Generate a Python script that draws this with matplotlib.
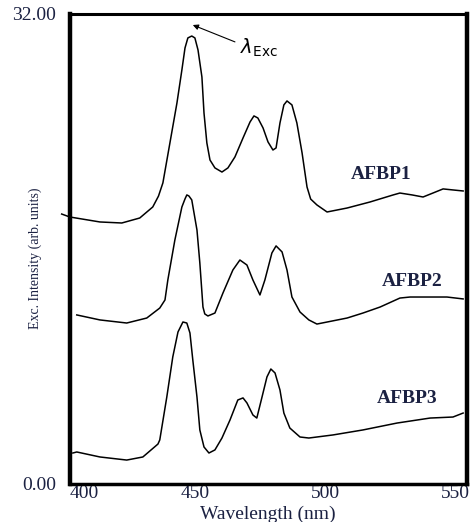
import numpy as np
import matplotlib.pyplot as plt

# wavelength (nm) / intensity
wl_1 = [398.8, 401.9, 413.5, 421.9, 428.8, 433.8, 436.0, 437.7, 440.4, 443.1,
        445.0, 446.2, 447.3, 448.8, 450.0, 451.2, 452.7, 453.5, 454.6, 455.8,
        457.7, 460.4, 462.7, 465.4, 468.5, 471.2, 472.7, 474.2, 476.2, 478.1,
        480.0, 481.2, 482.7, 484.2, 485.4, 487.3, 489.2, 491.2, 493.1, 494.5,
        496.9, 500.8, 508.5, 517.3, 526.2, 528.8, 533.5, 537.7, 541.5, 545.4,
        549.2, 553.1]
afbp1 = [18.38, 18.18, 17.84, 17.77, 18.11, 18.86, 19.60, 20.50, 23.22, 25.94,
         28.19, 29.69, 30.37, 30.50, 30.37, 29.55, 27.71, 25.26, 23.22, 22.06,
         21.52, 21.24, 21.52, 22.27, 23.56, 24.65, 25.06, 24.92, 24.24, 23.29,
         22.74, 22.88, 24.58, 25.81, 26.08, 25.81, 24.58, 22.54, 20.22, 19.40,
         19.00, 18.52, 18.79, 19.20, 19.68, 19.81, 19.68, 19.54, 19.81, 20.09,
         20.02, 19.95]

wl_2 = [404.6, 413.5, 423.8, 431.5, 436.5, 438.5, 439.6, 442.3, 445.0, 446.2,
        446.9, 447.7, 448.8, 450.8, 451.9, 453.1, 453.8, 455.0, 457.7, 460.8,
        464.6, 467.3, 470.0, 472.3, 475.0, 476.9, 479.6, 481.2, 483.5, 485.4,
        487.3, 490.4, 493.8, 496.9, 508.5, 514.6, 521.2, 528.8, 532.7, 546.9,
        553.1]
afbp2 = [11.51, 11.17, 10.96, 11.30, 11.98, 12.53, 13.89, 16.61, 18.86, 19.41,
         19.68, 19.61, 19.34, 17.29, 15.05, 12.05, 11.58, 11.44, 11.64, 13.01,
         14.57, 15.25, 14.91, 13.89, 12.87, 13.89, 15.73, 16.21, 15.80, 14.57,
         12.73, 11.71, 11.17, 10.89, 11.30, 11.64, 12.05, 12.66, 12.73, 12.73,
         12.60]

wl_3 = [403.1, 404.6, 413.5, 423.8, 430.0, 435.8, 436.5, 439.2, 441.5, 443.5,
        445.4, 446.9, 448.1, 449.2, 450.8, 451.9, 453.5, 455.4, 457.7, 460.4,
        463.5, 466.5, 468.5, 470.0, 472.3, 473.8, 475.8, 477.7, 479.2, 480.8,
        482.7, 484.2, 486.5, 490.4, 493.8, 503.1, 514.6, 527.7, 540.4, 549.2,
        553.1]
afbp3 = [2.11, 2.18, 1.84, 1.63, 1.84, 2.72, 3.00, 5.92, 8.65, 10.35,
         11.03, 10.96, 10.28, 8.44, 5.92, 3.68, 2.52, 2.11, 2.32, 3.13,
         4.36, 5.72, 5.86, 5.52, 4.70, 4.49, 5.92, 7.29, 7.83, 7.56,
         6.40, 4.83, 3.81, 3.20, 3.13, 3.34, 3.68, 4.15, 4.49, 4.56,
         4.83]

names = ['AFBP1', 'AFBP2', 'AFBP3']
name_pos = [(521.5, 21.1), (533.5, 13.8), (531.5, 5.8)]
xtick_labels = ['400', '450', '500', '550']
peak_exc = (449.2, 31.25)

txt = '#1b2142'
plt.rcParams['font.family'] = ['Liberation Serif', 'DejaVu Serif']

fig = plt.figure(figsize=(4.75, 5.22), dpi=100)
ax = fig.add_axes([0.1474, 0.0728, 0.8358, 0.9004])

for wl, y in zip([wl_1, wl_2, wl_3], [afbp1, afbp2, afbp3]):
    ax.plot(wl, y, color='black', lw=1.1, clip_on=False,
            solid_joinstyle='round')

for name, (x, y) in zip(names, name_pos):
    ax.text(x, y, name, color=txt, fontsize=14, fontweight='bold',
            ha='center', va='center')

# lambda_Exc marker
ax.annotate('', xy=peak_exc, xytext=(465.4, 30.1),
            arrowprops=dict(arrowstyle='-|>', lw=0.8, color='black',
                            mutation_scale=8, shrinkA=0, shrinkB=0))
ax.text(467.5, 29.3, r'$\lambda_{\mathsf{Exc}}$', fontsize=14, color='black',
        va='baseline')

ax.set_xlim(402, 554.6)
ax.set_ylim(0, 32)
ax.set_xticks([402, 450, 500, 550])
ax.set_xticklabels(xtick_labels, fontsize=14, color=txt)
ax.get_xticklabels()[0].set_horizontalalignment('left')
ax.set_yticks([0, 32])
ax.set_yticklabels(['0.00', '32.00'], fontsize=14, color=txt)
ax.tick_params(length=0)
ax.tick_params(axis='x', pad=1)
ax.tick_params(axis='y', pad=10)

ax.spines['left'].set_linewidth(3.2)
ax.spines['right'].set_linewidth(3.2)
ax.spines['bottom'].set_linewidth(2.5)
ax.spines['top'].set_linewidth(2.2)

fig.text(268 / 475, 1 - 514 / 522, 'Wavelength (nm)', fontsize=14,
         color=txt, ha='center', va='center')
fig.text(35 / 475, 1 - 258 / 522, 'Exc. Intensity (arb. units)', fontsize=10,
         color=txt, ha='center', va='center', rotation=90)

fig.savefig('out.png', dpi=100)
